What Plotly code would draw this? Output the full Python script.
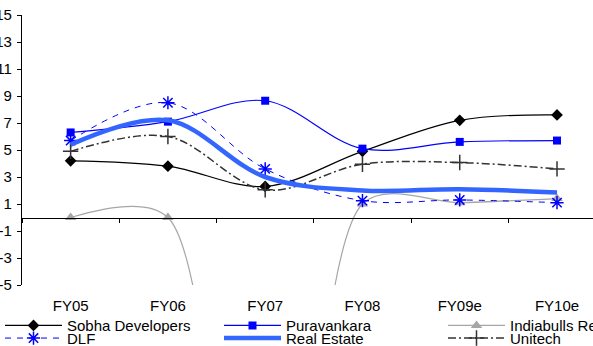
import plotly.graph_objects as go

categories = ["FY05", "FY06", "FY07", "FY08", "FY09e", "FY10e"]
sobha = [4.2, 3.8, 2.3, 4.9, 7.2, 7.6]
puravankara = [6.3, 7.1, 8.65, 5.1, 5.6, 5.7]
indiabulls = [0.0, 0.0, -300.0, 1.0, 1.1, 1.4]
dlf = [5.7, 8.5, 3.6, 1.25, 1.3, 1.1]
real_estate = [5.4, 7.2, 3.0, 2.0, 2.1, 1.85]
unitech = [4.9, 6.0, 2.05, 3.95, 4.07, 3.6]
y_ticks = [-5, -3, -1, 1, 3, 5, 7, 9, 11, 13, 15]
y_tick_text = ["-5", "-3", "-1", "1", "3", "5", "7", "9", "11", "13", "15"]

FONT = "Liberation Sans, Arial, sans-serif"
fig = go.Figure()

# legend slots: (legend id, x px of left edge, row center y px)
slots = {
    "legend": (-4, 325.7), "legend2": (219, 325.7), "legend3": (443, 325.7),
    "legend4": (-4, 338.3), "legend5": (219, 338.3), "legend6": (443, 338.3),
}

def add(name, y, color, width, dash, symbol, msize, legend, mline=0, xaxis="x", smooth=1.0):
    fig.add_trace(go.Scatter(
        x=categories, y=y, name=name, mode="lines+markers" if symbol else "lines",
        line=dict(color=color, width=width, dash=dash, shape="spline", smoothing=smooth),
        marker=dict(symbol=symbol or "circle", size=msize, color=color,
                    line=dict(color=color, width=mline)),
        legend=legend, xaxis=xaxis,
    ))

add("Sobha Developers", sobha, "#000000", 1.2, "solid", "diamond", 9, "legend")
add("Puravankara", puravankara, "#0000ff", 1.2, "solid", "square", 8, "legend2")
add("Indiabulls Real Estate", indiabulls, "#a6a6a6", 1.3, "solid", "triangle-up", 10,
    "legend3", smooth=0.8)
add("DLF", dlf, "#0000ff", 1.0, "6px,6px", "asterisk-open", 11, "legend4", 1.5)
add("Real Estate", real_estate, "#3366ff", 4.5, "solid", None, 1, "legend5", xaxis="x2")
add("Unitech", unitech, "#333333", 1.5, "8px,3px,2px,3px", "cross-thin-open", 11, "legend6", 1.5)

xr = [-0.5, 5.37]
layout = dict(
    width=593, height=346,
    margin=dict(l=22, r=0, t=15, b=61, autoexpand=False),
    paper_bgcolor="white", plot_bgcolor="white",
    font=dict(family=FONT, size=15, color="#000000"),
    xaxis=dict(type="category", categoryarray=categories, range=xr, showline=False,
               showgrid=False, zeroline=False, ticks="", tickfont=dict(size=15),
               ticklabelstandoff=10),
    xaxis2=dict(type="category", categoryarray=categories, overlaying="x",
                matches="x", anchor="free", position=0.25, range=xr,
                showline=True, linecolor="#000000", linewidth=1.2,
                ticks="outside", tickson="boundaries", ticklen=4,
                tickcolor="#000000", tickwidth=1.2, showticklabels=False,
                showgrid=False, zeroline=False),
    yaxis=dict(range=[-5, 15], tickvals=y_ticks, ticktext=y_tick_text,
               showline=True, linecolor="#000000",
               linewidth=1.2, ticks="outside", ticklen=4, tickcolor="#000000",
               showgrid=False, zeroline=False, tickfont=dict(size=15),
               ticklabelstandoff=2),
    showlegend=True,
)
for lid, (xpx, ypx) in slots.items():
    layout[lid] = dict(orientation="h", xref="container", yref="container",
                       x=xpx / 593, y=(346 - ypx) / 346, xanchor="left",
                       yanchor="middle", itemwidth=57, font=dict(size=15),
                       bgcolor="rgba(0,0,0,0)")
fig.update_layout(**layout)
fig.write_html("out.html")
